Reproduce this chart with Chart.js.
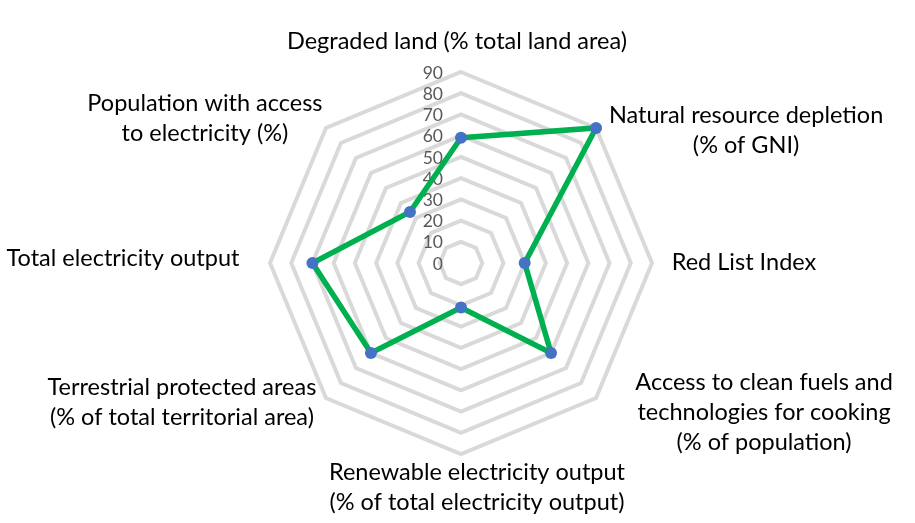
<!DOCTYPE html>
<html>
<head>
<meta charset="utf-8">
<script src="https://cdn.jsdelivr.net/npm/chart.js@4.4.0/dist/chart.umd.min.js"></script>
<style>
  html, body { margin: 0; padding: 0; background: #ffffff; }
  #wrap { width: 915px; height: 523px; position: relative; }
</style>
</head>
<body>
<div id="wrap"><canvas id="c" width="915" height="523"></canvas></div>
<script>
// ---- data ----
const categories = [
  ["Degraded land (% total land area)"],
  ["Natural resource depletion", "(% of GNI)"],
  ["Red List Index"],
  ["Access to clean fuels and", "technologies for cooking", "(% of population)"],
  ["Renewable electricity output", "(% of total electricity output)"],
  ["Terrestrial protected areas", "(% of total territorial area)"],
  ["Total electricity output"],
  ["Population with access", "to electricity (%)"]
];
const seriesValues = [59, 90, 30, 60, 21, 60, 70, 34];
const tickValues = [0, 10, 20, 30, 40, 50, 60, 70, 80, 90];

// ---- layout (label block centre offsets from the outer-ring vertex) ----
const labelOffsets = [
  [-4, -31], [150, 2], [92, -1], [168, 14],
  [16, 33], [-144, 4], [-147, -5], [-121, -10]
];
const FONT_FAMILY = "Lato, 'Open Sans', 'Noto Sans', sans-serif";

const tickPlugin = {
  id: 'tickLabels',
  beforeDatasetsDraw(chart) {
    const s = chart.scales.r;
    const ctx = chart.ctx;
    ctx.save();
    ctx.font = "17.5px " + FONT_FAMILY;
    ctx.fillStyle = "#595959";
    ctx.textAlign = "right";
    ctx.textBaseline = "middle";
    tickValues.forEach(v => {
      const d = s.getDistanceFromCenterForValue(v);
      ctx.fillText(String(v), s.xCenter - 18, s.yCenter - d + 1);
    });
    ctx.restore();
  }
};

const pointLabelPlugin = {
  id: 'pointLabelsCustom',
  afterDraw(chart) {
    const s = chart.scales.r;
    const ctx = chart.ctx;
    ctx.save();
    ctx.font = "20px " + FONT_FAMILY;
    // fit font so that a reference label matches its width in the original
    const w = ctx.measureText("Total electricity output").width;
    const size = 20 * 233 / w;
    ctx.font = size.toFixed(2) + "px " + FONT_FAMILY;
    ctx.fillStyle = "#000000";
    ctx.textAlign = "center";
    ctx.textBaseline = "middle";
    const lh = 30;
    categories.forEach((lines, i) => {
      const p = s.getPointPosition(i, s.drawingArea);
      const cx = p.x + labelOffsets[i][0];
      const cy = p.y + labelOffsets[i][1];
      const top = cy - (lines.length - 1) * lh / 2;
      lines.forEach((ln, j) => ctx.fillText(ln, cx, top + j * lh));
    });
    ctx.restore();
  }
};

new Chart(document.getElementById('c'), {
  type: 'radar',
  data: {
    labels: categories,
    datasets: [{
      data: seriesValues,
      borderColor: '#00b050',
      borderWidth: 5.5,
      backgroundColor: 'rgba(0,0,0,0)',
      fill: false,
      pointBackgroundColor: '#4472c4',
      pointBorderColor: '#4472c4',
      pointBorderWidth: 0,
      pointRadius: 6,
      pointHoverRadius: 6,
      tension: 0
    }]
  },
  options: {
    responsive: false,
    animation: false,
    devicePixelRatio: 1,
    layout: { padding: { left: 270, right: 263, top: 72, bottom: 69 } },
    plugins: { legend: { display: false }, tooltip: { enabled: false } },
    scales: {
      r: {
        min: 0,
        max: 90,
        ticks: { stepSize: 10, display: false },
        grid: { color: '#d9d9d9', lineWidth: 4, circular: false },
        angleLines: { display: false },
        pointLabels: { display: false }
      }
    }
  },
  plugins: [tickPlugin, pointLabelPlugin]
});
</script>
</body>
</html>
